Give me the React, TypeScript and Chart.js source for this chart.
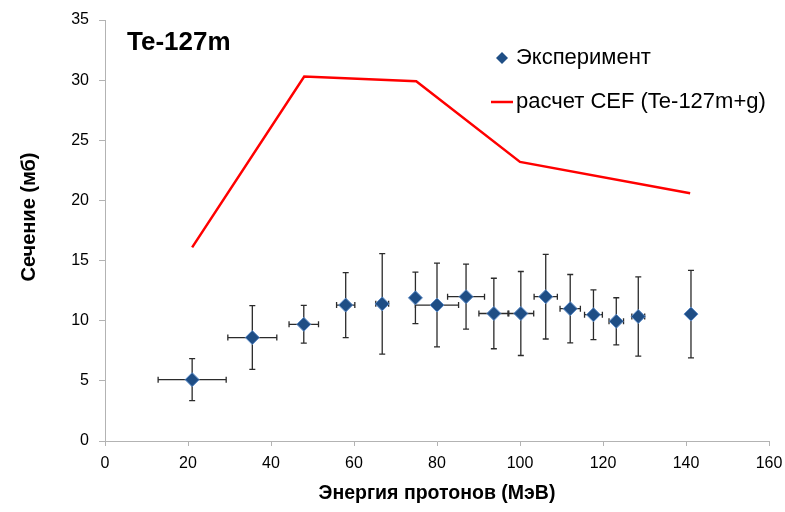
import React, { useEffect, useRef } from 'react';
import { Chart, registerables } from 'chart.js';

Chart.register(...registerables);

// Experimental cross sections with uncertainties
const energy = [21, 35.5, 47.9, 58.0, 66.8, 74.8, 80.0, 87.0, 93.7, 100.2, 106.2, 112.1, 117.7, 123.2, 128.5, 141.2];
const sigma = [5.1, 8.6, 9.7, 11.3, 11.4, 11.9, 11.3, 12.0, 10.6, 10.6, 12.0, 11.0, 10.5, 9.95, 10.35, 10.55];
const sigmaErr = [1.75, 2.65, 1.57, 2.7, 4.17, 2.14, 3.48, 2.7, 2.93, 3.49, 3.52, 2.84, 2.07, 1.96, 3.29, 3.64];
const energyErr = [8.2, 5.9, 3.55, 2.2, 1.55, 0, 5.2, 4.45, 3.6, 3.1, 2.8, 2.45, 2.15, 1.75, 1.55, 0];

// CEF calculation (Te-127m+g)
const calcEnergy = [21, 48, 75, 100, 141];
const calcSigma = [16.1, 30.3, 29.9, 23.2, 20.6];

const xTicks = { min: 0, max: 160, step: 20 };
const yTicks = { min: 0, max: 35, step: 5 };

const FONT = '"Liberation Sans", Arial, Helvetica, sans-serif';
const MARKER_FILL = '#1f4e85';
const MARKER_EDGE = '#5b8ac6';
const CALC_COLOR = '#ff0000';
const AXIS_COLOR = '#b3b3b3';

const errorBars = {
  id: 'errorBars',
  beforeDatasetsDraw(chart: any) {
    const { ctx, scales } = chart;
    const x = scales.x;
    const y = scales.y;
    const cap = 3;
    ctx.save();
    ctx.strokeStyle = '#2b2b2b';
    ctx.lineWidth = 1.3;
    for (let i = 0; i < energy.length; i++) {
      const px = x.getPixelForValue(energy[i]);
      const py = y.getPixelForValue(sigma[i]);
      const yTop = y.getPixelForValue(sigma[i] + sigmaErr[i]);
      const yBot = y.getPixelForValue(sigma[i] - sigmaErr[i]);
      ctx.beginPath();
      ctx.moveTo(px, yTop);
      ctx.lineTo(px, yBot);
      ctx.moveTo(px - cap, yTop);
      ctx.lineTo(px + cap, yTop);
      ctx.moveTo(px - cap, yBot);
      ctx.lineTo(px + cap, yBot);
      ctx.stroke();
      if (energyErr[i] > 0) {
        const xl = x.getPixelForValue(energy[i] - energyErr[i]);
        const xr = x.getPixelForValue(energy[i] + energyErr[i]);
        ctx.beginPath();
        ctx.moveTo(xl, py);
        ctx.lineTo(xr, py);
        ctx.moveTo(xl, py - cap);
        ctx.lineTo(xl, py + cap);
        ctx.moveTo(xr, py - cap);
        ctx.lineTo(xr, py + cap);
        ctx.stroke();
      }
    }
    ctx.restore();
  },
};

const annotations = {
  id: 'annotations',
  afterDraw(chart: any) {
    const { ctx } = chart;
    ctx.save();
    ctx.fillStyle = '#000';
    ctx.textBaseline = 'middle';
    ctx.textAlign = 'left';

    // Nuclide label
    ctx.font = `bold 26px ${FONT}`;
    ctx.fillText('Te-127m', 127, 43);

    // Legend
    ctx.font = `22px ${FONT}`;
    const mx = 502;
    const my = 58;
    const r = 6;
    ctx.beginPath();
    ctx.moveTo(mx, my - r);
    ctx.lineTo(mx + r, my);
    ctx.lineTo(mx, my + r);
    ctx.lineTo(mx - r, my);
    ctx.closePath();
    ctx.fillStyle = MARKER_FILL;
    ctx.fill();
    ctx.fillStyle = '#000';
    ctx.fillText('Эксперимент', 516, 58);

    ctx.strokeStyle = CALC_COLOR;
    ctx.lineWidth = 2.5;
    ctx.beginPath();
    ctx.moveTo(491, 102);
    ctx.lineTo(513, 102);
    ctx.stroke();
    ctx.fillText('расчет CEF (Te-127m+g)', 516, 102);

    // Y axis title
    ctx.font = `bold 20px ${FONT}`;
    ctx.translate(29, 217);
    ctx.rotate(-Math.PI / 2);
    ctx.textAlign = 'center';
    ctx.fillText('Сечение (мб)', 0, 0);
    ctx.restore();
  },
};

export default function App() {
  const ref = useRef<HTMLCanvasElement>(null);

  useEffect(() => {
    document.body.style.margin = '0';
    const canvas = ref.current;
    if (!canvas) return;
    Chart.defaults.font.family = FONT;

    const chart = new Chart(canvas, {
      type: 'scatter',
      data: {
        datasets: [
          {
            label: 'Эксперимент',
            data: energy.map((e, i) => ({ x: e, y: sigma[i] })),
            pointStyle: 'rectRot',
            pointRadius: 7,
            backgroundColor: MARKER_FILL,
            borderColor: MARKER_EDGE,
            borderWidth: 1,
            showLine: false,
            order: 1,
          },
          {
            label: 'расчет CEF (Te-127m+g)',
            data: calcEnergy.map((e, i) => ({ x: e, y: calcSigma[i] })),
            showLine: true,
            borderColor: CALC_COLOR,
            borderWidth: 2.5,
            pointRadius: 0,
            fill: false,
            tension: 0,
            order: 2,
          },
        ],
      },
      options: {
        responsive: false,
        animation: false,
        devicePixelRatio: 1,
        layout: { padding: { top: 20, right: 16, left: 0, bottom: 0 } },
        plugins: {
          legend: { display: false },
          tooltip: { enabled: false },
        },
        scales: {
          x: {
            type: 'linear',
            min: xTicks.min,
            max: xTicks.max,
            afterFit: (s: any) => {
              s.height = 71;
              s.paddingLeft = 0;
              s.paddingRight = 0;
            },
            ticks: {
              stepSize: xTicks.step,
              color: '#000',
              font: { size: 16 },
              padding: 8,
              maxRotation: 0,
            },
            grid: {
              drawOnChartArea: false,
              drawTicks: true,
              tickLength: 5,
              color: AXIS_COLOR,
            },
            border: { color: AXIS_COLOR, width: 1 },
            title: {
              display: true,
              text: 'Энергия протонов (МэВ)',
              color: '#000',
              font: { size: 19.5, weight: 'bold' },
              padding: { top: 0, bottom: 7 },
            },
          },
          y: {
            type: 'linear',
            min: yTicks.min,
            max: yTicks.max,
            afterFit: (s: any) => {
              s.width = 105;
              s.paddingTop = 0;
              s.paddingBottom = 0;
            },
            ticks: {
              stepSize: yTicks.step,
              color: '#000',
              font: { size: 16 },
              padding: 10,
            },
            grid: {
              drawOnChartArea: false,
              drawTicks: true,
              tickLength: 6,
              color: AXIS_COLOR,
            },
            border: { color: AXIS_COLOR, width: 1 },
          },
        },
      },
      plugins: [errorBars, annotations],
    } as any);

    return () => chart.destroy();
  }, []);

  return (
    <div style={{ width: 785, height: 512, position: 'relative', background: '#fff' }}>
      <canvas ref={ref} width={785} height={512} style={{ display: 'block' }} />
    </div>
  );
}
